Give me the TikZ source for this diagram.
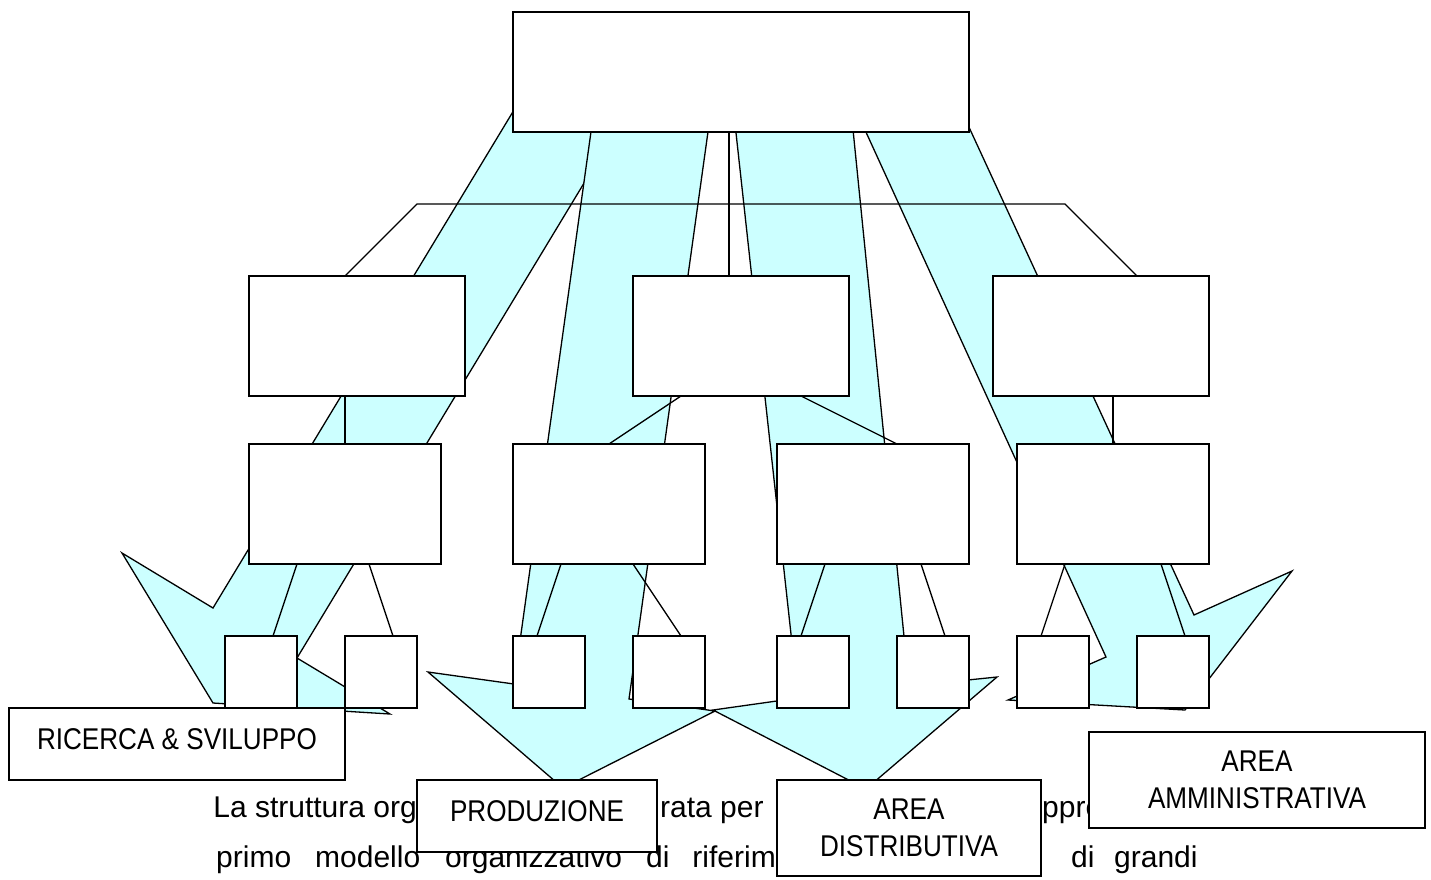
\documentclass[tikz,border=0pt]{standalone}
\usepackage{fontspec}
\setmainfont{Liberation Sans}
\newfontfamily\labelfont[FakeStretch=0.87]{Liberation Sans}
\usepackage{tikz}
\usetikzlibrary{positioning}
\definecolor{flowcyan}{RGB}{204,255,255}

\tikzset{
  unit/.style={draw=black, fill=white, line width=1.3pt, inner sep=0pt, outer sep=0pt},
  bigunit/.style={unit, minimum width=216pt, minimum height=120pt},
  midunit/.style={unit, minimum width=192pt, minimum height=120pt},
  smallunit/.style={unit, minimum width=72pt, minimum height=72pt},
  areabox/.style={unit, font=\labelfont\fontsize{30}{36.5}\selectfont, align=center},
  flow/.style={fill=flowcyan, draw=black, line width=1.3pt},
  link/.style={draw=black, line width=1.3pt},
  body/.style={font=\fontsize{30}{36}\selectfont, anchor=base west, inner sep=0pt}
}

\begin{document}
\begin{tikzpicture}[x=1pt,y=-1pt]
\useasboundingbox (0,0) rectangle (1431,879);

% Body text between the labels
\node[body, anchor=base east] (t1) at (417,817) {La struttura org};
\node[body] (t2) at (660,817) {rata per};
\node[body] (t3) at (1042,817) {ppre};
\node[body] (t4) at (216,867) {primo};
\node[body] (t5) at (315,867) {modello};
\node[body] (t6) at (445,867) {organizzativo};
\node[body] (t7) at (646,867) {di};
\node[body, anchor=base east] (t8) at (776,867) {riferim};
\node[body] (t9) at (1071,867) {di};
\node[body] (t10) at (1114,867) {grandi};

% Flows crossing the functions
\filldraw[flow] (543,62) -- (213,608) -- (122,553) -- (213,703) -- (390,714)
  -- (297,658) -- (627,112) -- cycle;
\filldraw[flow] (601,60) -- (514,684) -- (428,672) -- (563,788) -- (715,711)
  -- (629,699) -- (718,60) -- cycle;
\filldraw[flow] (728,60) -- (798,698) -- (713,710) -- (866,789) -- (997,677)
  -- (909,686) -- (846,60) -- cycle;
\filldraw[flow] (833,60) -- (1106,657) -- (1008,700) -- (1185,710) -- (1292,571)
  -- (1194,615) -- (938,60) -- cycle;

% Boxes of the chart
\node[unit, minimum width=456pt, minimum height=120pt] (top) at (741,72) {};
\node[bigunit] (l2a) at (357,336) {};
\node[bigunit] (l2b) at (741,336) {};
\node[bigunit] (l2c) at (1101,336) {};
\node[midunit] (l3a) at (345,504) {};
\node[midunit] (l3b) at (609,504) {};
\node[midunit] (l3c) at (873,504) {};
\node[midunit] (l3d) at (1113,504) {};
\foreach \n/\x in {1/261, 2/381, 3/549, 4/669, 5/813, 6/933, 7/1053, 8/1173}
  \node[smallunit] (s\n) at (\x,672) {};

% Links of the chart
\coordinate (barL) at (417,204);
\coordinate (barR) at (1065,204);
\draw[link] ([xshift=-12pt]top.south) -- ([xshift=-12pt]l2b.north);
\draw[link] ([xshift=-12pt]l2a.north) -- (barL) -- (barR) -- ([xshift=36pt]l2c.north);
\draw[link] ([xshift=-12pt]l2a.south) -- (l3a.north);
\draw[link] ([xshift=-60pt]l2b.south) -- (l3b.north);
\draw[link] ([xshift=60pt]l2b.south) -- ([xshift=24pt]l3c.north);
\draw[link] ([xshift=12pt]l2c.south) -- (l3d.north);
\foreach \p/\a/\c/\b in {l3a/-48/s1/12, l3a/24/s2/12, l3b/-48/s3/-12, l3b/24/s4/12,
    l3c/-48/s5/-12, l3c/48/s6/12, l3d/-48/s7/-12, l3d/48/s8/12}
  \draw[link] ([xshift=\a pt]\p.south) -- ([xshift=\b pt]\c.north);

% Functional areas
\node[areabox, minimum width=336pt, minimum height=72pt, text depth=10pt] (rs) at (177,744) {RICERCA \& SVILUPPO};
\node[areabox, minimum width=240pt, minimum height=72pt, text depth=10pt] (prod) at (537,816) {PRODUZIONE};
\node[areabox, minimum width=264pt, minimum height=96pt] (dist) at (909,828) {AREA\\DISTRIBUTIVA};
\node[areabox, minimum width=336pt, minimum height=96pt] (amm) at (1257,780) {AREA\\AMMINISTRATIVA};
\end{tikzpicture}
\end{document}
